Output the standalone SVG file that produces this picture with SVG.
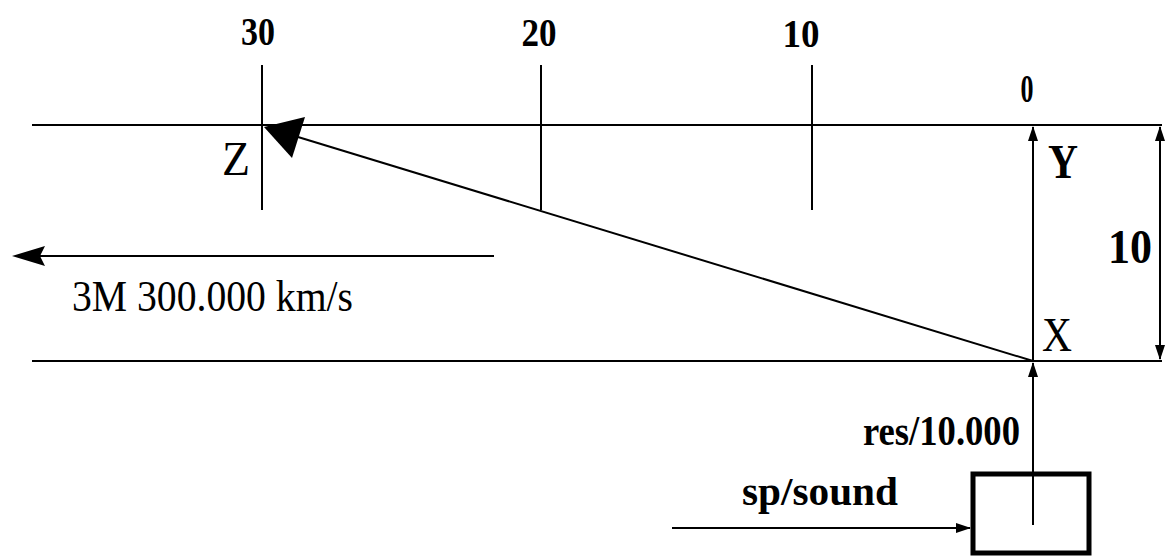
<svg xmlns="http://www.w3.org/2000/svg" width="1165" height="558" viewBox="0 0 1165 558">
<style>
.ln{stroke:#000;stroke-width:2;fill:none}
.t{font-family:"Liberation Serif","DejaVu Serif",serif;fill:#000}
.b{font-weight:bold}
</style>
<defs>
<marker id="sa" markerUnits="userSpaceOnUse" markerWidth="16" markerHeight="12" refX="14" refY="5" orient="auto">
<path d="M0,0 L15,5 L0,10 z" fill="#000"/>
</marker>
</defs>
<rect width="1165" height="558" fill="#fff"/>
<g id="rails">
<line class="ln" x1="32" y1="125" x2="1162" y2="125"/>
<line class="ln" x1="32" y1="361" x2="1162" y2="361"/>
</g>
<g id="tick30">
<line class="ln" x1="262" y1="65" x2="262" y2="210"/>
<text class="t b" x="258" y="45" font-size="40" text-anchor="middle" textLength="34" lengthAdjust="spacingAndGlyphs">30</text>
</g>
<g id="tick20">
<line class="ln" x1="541" y1="65" x2="541" y2="210"/>
<text class="t b" x="539" y="46" font-size="40" text-anchor="middle" textLength="35" lengthAdjust="spacingAndGlyphs">20</text>
</g>
<g id="tick10">
<line class="ln" x1="812" y1="65" x2="812" y2="210"/>
<text class="t b" x="801" y="47" font-size="40" text-anchor="middle" textLength="37" lengthAdjust="spacingAndGlyphs">10</text>
</g>
<g id="zero">
<text class="t b" x="1027" y="102" font-size="40" text-anchor="middle" textLength="13" lengthAdjust="spacingAndGlyphs">0</text>
</g>
<g id="Z"><text class="t" x="236" y="175" font-size="48" text-anchor="middle" textLength="28" lengthAdjust="spacingAndGlyphs">Z</text></g>
<g id="Y"><text class="t b" x="1063" y="178" font-size="48" text-anchor="middle" textLength="30" lengthAdjust="spacingAndGlyphs">Y</text></g>
<g id="X"><text class="t" x="1057" y="351" font-size="48" text-anchor="middle" textLength="30" lengthAdjust="spacingAndGlyphs">X</text></g>
<g id="dim10"><text class="t b" x="1130" y="263" font-size="48" text-anchor="middle" textLength="44" lengthAdjust="spacingAndGlyphs">10</text></g>
<g id="speed"><text class="t" x="72" y="311" font-size="44" textLength="281" lengthAdjust="spacingAndGlyphs">3M 300.000 km/s</text></g>
<g id="res"><text class="t b" x="863" y="445" font-size="42" textLength="157" lengthAdjust="spacingAndGlyphs">res/10.000</text></g>
<g id="sp"><text class="t b" x="742" y="505" font-size="40" textLength="156" lengthAdjust="spacingAndGlyphs">sp/sound</text></g>
<g id="box"><rect x="973" y="474" width="116" height="79" fill="none" stroke="#000" stroke-width="5"/></g>
<g id="connectors">
<line class="ln" x1="1033" y1="361" x2="1033" y2="127" marker-end="url(#sa)"/>
<line class="ln" x1="1033" y1="525" x2="1033" y2="363" marker-end="url(#sa)"/>
<line class="ln" x1="1160" y1="243" x2="1160" y2="127" marker-end="url(#sa)"/>
<line class="ln" x1="1160" y1="243" x2="1160" y2="359" marker-end="url(#sa)"/>
<line class="ln" x1="672" y1="528" x2="970" y2="528" marker-end="url(#sa)"/>
<line class="ln" x1="1033" y1="361" x2="298" y2="137"/>
<polygon points="264,127 305,117 292,158" fill="#000"/>
<line class="ln" x1="494" y1="256" x2="40" y2="256"/>
<polygon points="12,256 45,246 40,256 45,266" fill="#000"/>
</g>
</svg>
